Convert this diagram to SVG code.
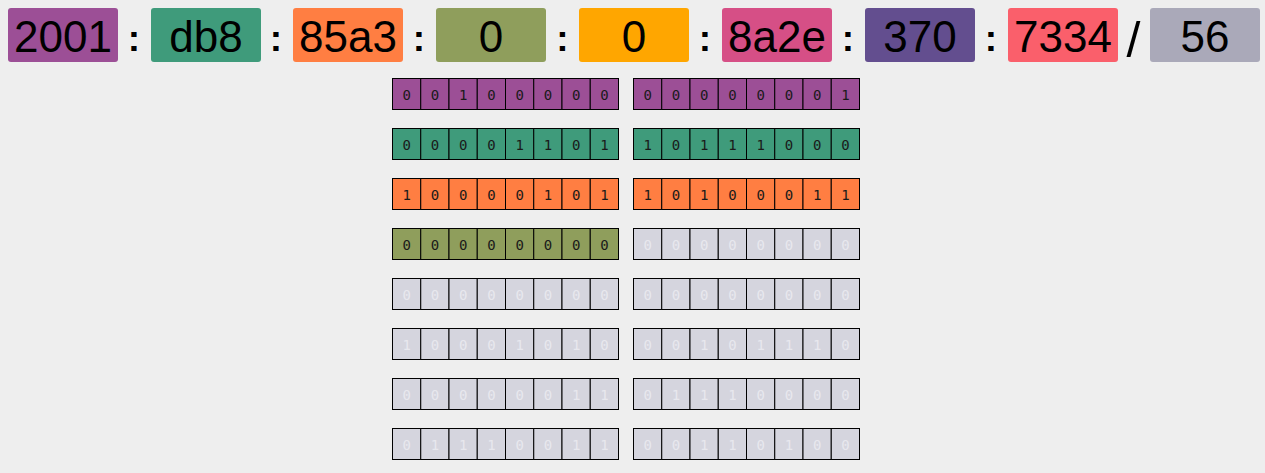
<svg xmlns="http://www.w3.org/2000/svg" xmlns:xlink="http://www.w3.org/1999/xlink" width="1265" height="473" viewBox="0 0 1265 473">
<style>
.hd{font-family:"Liberation Sans",Arial,sans-serif;font-size:44px;fill:#000;text-anchor:middle}
.sep{font-family:"Liberation Sans",Arial,sans-serif;font-size:37px;font-weight:bold;fill:#000;text-anchor:middle}
.sl{font-family:"Liberation Sans",Arial,sans-serif;font-size:50px;fill:#000;text-anchor:middle}
.bit{font-family:"DejaVu Sans Mono",monospace;font-size:14px;fill:#1a1a1a;text-anchor:middle}
.bg{fill:#E8E8EE}
.c{stroke:#000;stroke-width:1}
</style>
<defs>
<g id="cells" class="c">
<rect x="0" y="0" width="28.25" height="31"/>
<rect x="28.25" y="0" width="28.25" height="31"/>
<rect x="56.5" y="0" width="28.25" height="31"/>
<rect x="84.75" y="0" width="28.25" height="31"/>
<rect x="113" y="0" width="28.25" height="31"/>
<rect x="141.25" y="0" width="28.25" height="31"/>
<rect x="169.5" y="0" width="28.25" height="31"/>
<rect x="197.75" y="0" width="28.25" height="31"/>
</g>
</defs>
<rect width="1265" height="473" fill="#EEEEEE"/>
<g id="header">
<g id="h2001"><rect x="8" y="8" width="110" height="54" rx="3" fill="#9C4F96"/><text class="hd" x="63" y="52">2001</text></g>
<g id="hdb8"><rect x="151" y="8" width="110" height="54" rx="3" fill="#3F9B7B"/><text class="hd" x="206" y="52">db8</text></g>
<g id="h85a3"><rect x="293" y="8" width="110" height="54" rx="3" fill="#FF7E42"/><text class="hd" x="348" y="52">85a3</text></g>
<g id="h0a"><rect x="436" y="8" width="110" height="54" rx="3" fill="#8F9E5C"/><text class="hd" x="491" y="52">0</text></g>
<g id="h0b"><rect x="579" y="8" width="110" height="54" rx="3" fill="#FFA600"/><text class="hd" x="634" y="52">0</text></g>
<g id="h8a2e"><rect x="722" y="8" width="110" height="54" rx="3" fill="#D64F86"/><text class="hd" x="777" y="52">8a2e</text></g>
<g id="h370"><rect x="865" y="8" width="110" height="54" rx="3" fill="#634E8F"/><text class="hd" x="920" y="52">370</text></g>
<g id="h7334"><rect x="1008" y="8" width="110" height="54" rx="3" fill="#FA5F6B"/><text class="hd" x="1063" y="52">7334</text></g>
<g id="h56"><rect x="1150" y="8" width="110" height="54" rx="3" fill="#AAA9B9"/><text class="hd" x="1205" y="52">56</text></g>
<g id="separators">
<text class="sep" x="134" y="51">:</text>
<text class="sep" x="276" y="51">:</text>
<text class="sep" x="419" y="51">:</text>
<text class="sep" x="562.5" y="51">:</text>
<text class="sep" x="705" y="51">:</text>
<text class="sep" x="848" y="51">:</text>
<text class="sep" x="991" y="51">:</text>
<text class="sl" x="1133.5" y="57">/</text>
</g>
</g>
<g id="row1">
<use xlink:href="#cells" href="#cells" x="392.5" y="78.5" fill="#9C4F96"/>
<use xlink:href="#cells" href="#cells" x="633.5" y="78.5" fill="#9C4F96"/>
<text class="bit" x="406.6 434.9 463.1 491.4 519.6 547.9 576.1 604.4" y="100">00100000</text>
<text class="bit" x="647.6 675.9 704.1 732.4 760.6 788.9 817.1 845.4" y="100">00000001</text>
</g>
<g id="row2">
<use xlink:href="#cells" href="#cells" x="392.5" y="128.5" fill="#3F9B7B"/>
<use xlink:href="#cells" href="#cells" x="633.5" y="128.5" fill="#3F9B7B"/>
<text class="bit" x="406.6 434.9 463.1 491.4 519.6 547.9 576.1 604.4" y="150">00001101</text>
<text class="bit" x="647.6 675.9 704.1 732.4 760.6 788.9 817.1 845.4" y="150">10111000</text>
</g>
<g id="row3">
<use xlink:href="#cells" href="#cells" x="392.5" y="178.5" fill="#FF7E42"/>
<use xlink:href="#cells" href="#cells" x="633.5" y="178.5" fill="#FF7E42"/>
<text class="bit" x="406.6 434.9 463.1 491.4 519.6 547.9 576.1 604.4" y="200">10000101</text>
<text class="bit" x="647.6 675.9 704.1 732.4 760.6 788.9 817.1 845.4" y="200">10100011</text>
</g>
<g id="row4">
<use xlink:href="#cells" href="#cells" x="392.5" y="228.5" fill="#8F9E5C"/>
<use xlink:href="#cells" href="#cells" x="633.5" y="228.5" fill="#D5D5DE"/>
<text class="bit" x="406.6 434.9 463.1 491.4 519.6 547.9 576.1 604.4" y="250">00000000</text>
<text class="bit bg" x="647.6 675.9 704.1 732.4 760.6 788.9 817.1 845.4" y="250">00000000</text>
</g>
<g id="row5">
<use xlink:href="#cells" href="#cells" x="392.5" y="278.5" fill="#D5D5DE"/>
<use xlink:href="#cells" href="#cells" x="633.5" y="278.5" fill="#D5D5DE"/>
<text class="bit bg" x="406.6 434.9 463.1 491.4 519.6 547.9 576.1 604.4" y="300">00000000</text>
<text class="bit bg" x="647.6 675.9 704.1 732.4 760.6 788.9 817.1 845.4" y="300">00000000</text>
</g>
<g id="row6">
<use xlink:href="#cells" href="#cells" x="392.5" y="328.5" fill="#D5D5DE"/>
<use xlink:href="#cells" href="#cells" x="633.5" y="328.5" fill="#D5D5DE"/>
<text class="bit bg" x="406.6 434.9 463.1 491.4 519.6 547.9 576.1 604.4" y="350">10001010</text>
<text class="bit bg" x="647.6 675.9 704.1 732.4 760.6 788.9 817.1 845.4" y="350">00101110</text>
</g>
<g id="row7">
<use xlink:href="#cells" href="#cells" x="392.5" y="378.5" fill="#D5D5DE"/>
<use xlink:href="#cells" href="#cells" x="633.5" y="378.5" fill="#D5D5DE"/>
<text class="bit bg" x="406.6 434.9 463.1 491.4 519.6 547.9 576.1 604.4" y="400">00000011</text>
<text class="bit bg" x="647.6 675.9 704.1 732.4 760.6 788.9 817.1 845.4" y="400">01110000</text>
</g>
<g id="row8">
<use xlink:href="#cells" href="#cells" x="392.5" y="428.5" fill="#D5D5DE"/>
<use xlink:href="#cells" href="#cells" x="633.5" y="428.5" fill="#D5D5DE"/>
<text class="bit bg" x="406.6 434.9 463.1 491.4 519.6 547.9 576.1 604.4" y="450">01110011</text>
<text class="bit bg" x="647.6 675.9 704.1 732.4 760.6 788.9 817.1 845.4" y="450">00110100</text>
</g>
</svg>
